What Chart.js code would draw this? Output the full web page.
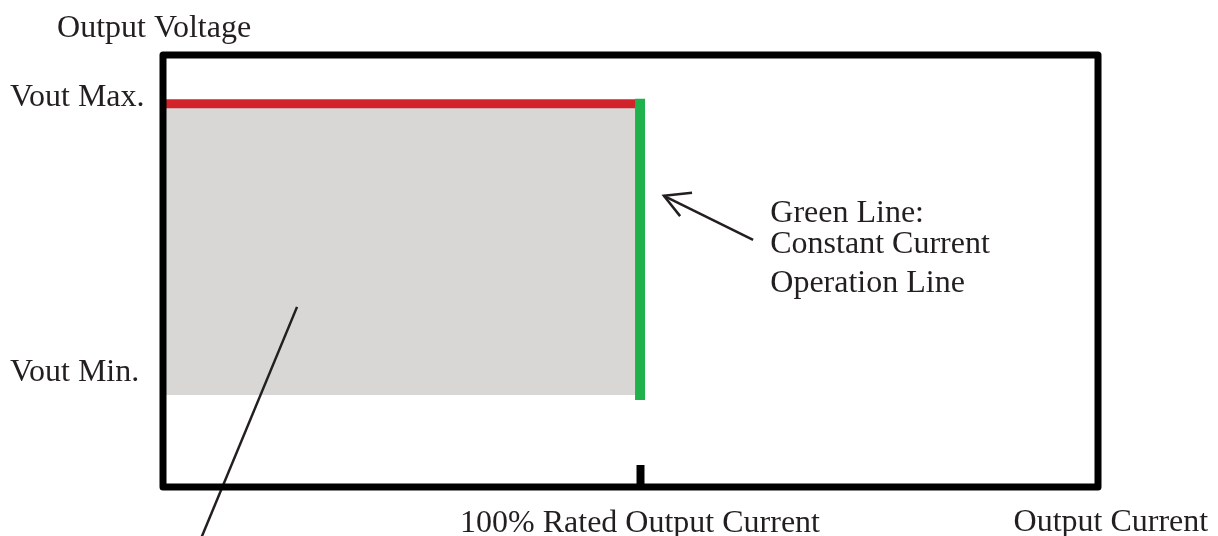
<!DOCTYPE html>
<html>
<head>
<meta charset="utf-8">
<script src="https://cdn.jsdelivr.net/npm/chart.js@4.4.1/dist/chart.umd.min.js"></script>
<style>
html, body { margin: 0; padding: 0; background: #fff; }
#wrap { width: 1218px; height: 536px; }
</style>
</head>
<body>
<div id="wrap"><canvas id="myChart"></canvas></div>
<script>
// axis ranges (x = % of rated output current, y = relative output voltage)
var currentRange = [0, 196];
var voltageRange = [0, 100];
var ratedCurrent = 100;
var voutMax = 88.7;
var voutMin = 21.3;

// tick labels
var xTickValues = [ratedCurrent];
var xTickLabels = ['100% Rated Output Current'];
var yTickValues = [voutMax, voutMin];
var yTickLabels = ['Vout Max.', 'Vout Min.'];

// constant voltage line (red) and constant current line (green)
var cvX = [0, ratedCurrent];
var cvY = [voutMax, voutMax];
var ccX = [ratedCurrent, ratedCurrent];
var ccY = [voutMin, voutMax];

// pointer lines (data units)
var arrowShaftX = [123.7, 105.0];
var arrowShaftY = [57.2, 67.4];
var arrowHeadX = [110.9, 105.0, 108.4];
var arrowHeadY = [68.1, 67.4, 62.7];
var pointerX = [28.1, 7.0];
var pointerY = [41.7, -14.5];

// free text
var noteTexts = ['Output Voltage', 'Output Current', 'Green Line:', 'Constant Current', 'Operation Line'];
var noteX = [-22.2, 219.1, 127.3, 127.3, 127.3];
var noteY = [104.2, -10.2, 61.3, 54.2, 45.1];
var noteAlign = ['left', 'right', 'left', 'left', 'left'];

function pts(xs, ys) {
    return xs.map(function (x, i) { return { x: x, y: ys[i] }; });
}

var FONT = '"Liberation Serif", "Times New Roman", serif';
var INK = '#231f20';

var framePlugin = {
    id: 'frame',
    afterDatasetsDraw: function (chart) {
        var a = chart.chartArea, c = chart.ctx;
        c.save();
        c.lineWidth = 7;
        c.strokeStyle = '#000';
        c.lineJoin = 'round';
        c.strokeRect(a.left, a.top, a.right - a.left, a.bottom - a.top);
        c.restore();
    }
};

var notesPlugin = {
    id: 'notes',
    afterDraw: function (chart) {
        var c = chart.ctx, sx = chart.scales.x, sy = chart.scales.y;
        c.save();
        c.font = '32px ' + FONT;
        c.fillStyle = INK;
        c.textBaseline = 'alphabetic';
        noteTexts.forEach(function (t, i) {
            c.textAlign = noteAlign[i];
            c.fillText(t, sx.getPixelForValue(noteX[i]), sy.getPixelForValue(noteY[i]));
        });
        c.restore();
    }
};

var ctx = document.getElementById('myChart').getContext('2d');
var chart = new Chart(ctx, {
    type: 'line',
    data: {
        datasets: [{
            label: 'Constant Voltage',
            data: pts(cvX, cvY),
            borderColor: '#d2232a',
            borderWidth: 9,
            backgroundColor: '#d9d7d6',
            fill: { value: voutMin },
            pointRadius: 0,
            order: 3
        }, {
            label: 'Constant Current',
            data: pts(ccX, ccY),
            borderColor: '#1fb14c',
            borderWidth: 10,
            borderCapStyle: 'square',
            pointRadius: 0,
            order: 2
        }, {
            data: pts(arrowShaftX, arrowShaftY),
            borderColor: INK, borderWidth: 2.5, pointRadius: 0, clip: false, order: 1
        }, {
            data: pts(arrowHeadX, arrowHeadY),
            borderColor: INK, borderWidth: 2.5, pointRadius: 0, clip: false, order: 1
        }, {
            data: pts(pointerX, pointerY),
            borderColor: INK, borderWidth: 2.5, pointRadius: 0, clip: false, order: 1
        }]
    },
    options: {
        responsive: true,
        maintainAspectRatio: false,
        animation: false,
        layout: { padding: { left: 10, right: 120, top: 55, bottom: 0 } },
        plugins: { legend: { display: false }, tooltip: { enabled: false } },
        scales: {
            x: {
                type: 'linear',
                min: currentRange[0],
                max: currentRange[1],
                afterFit: function (s) { s.height = 49; },
                afterBuildTicks: function (s) { s.ticks = xTickValues.map(function (v) { return { value: v }; }); },
                border: { display: false },
                grid: {
                    drawOnChartArea: false,
                    drawTicks: true,
                    tickLength: -22,
                    tickWidth: 8,
                    tickColor: '#000'
                },
                ticks: {
                    padding: 39,
                    maxRotation: 0,
                    autoSkip: false,
                    color: INK,
                    font: { family: FONT, size: 32 },
                    callback: function (v) { return xTickLabels[xTickValues.indexOf(v)]; }
                }
            },
            y: {
                type: 'linear',
                min: voltageRange[0],
                max: voltageRange[1],
                afterFit: function (s) { s.width = 153; },
                afterBuildTicks: function (s) { s.ticks = yTickValues.map(function (v) { return { value: v }; }); },
                border: { display: false },
                grid: { display: false },
                ticks: {
                    crossAlign: 'far',
                    labelOffset: -6,
                    autoSkip: false,
                    color: INK,
                    font: { family: FONT, size: 32, lineHeight: 1 },
                    callback: function (v) {
                        var i = yTickValues.indexOf(v);
                        return v === voutMin ? [yTickLabels[i], ''] : yTickLabels[i];
                    }
                }
            }
        }
    },
    plugins: [framePlugin, notesPlugin]
});
</script>
</body>
</html>
